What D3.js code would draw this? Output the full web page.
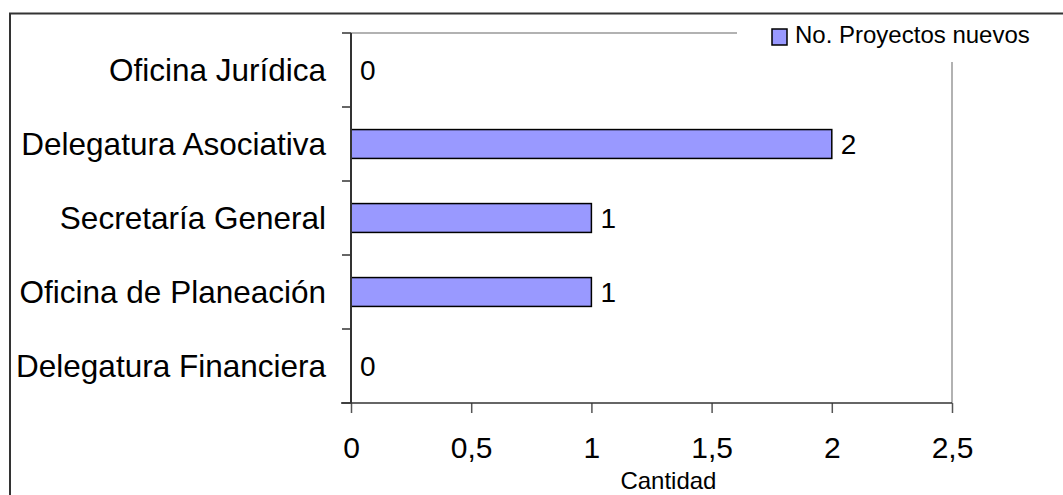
<!DOCTYPE html>
<html>
<head>
<meta charset="utf-8">
<script src="https://cdn.jsdelivr.net/npm/d3@7"></script>
<style>
	body { margin: 0; background: #fff; }
	svg { display: block; font-family: "Liberation Sans", Arial, sans-serif; }
</style>
</head>
<body>
<div class="chart"></div>
<script>
const width = 1063,
	height = 495;

// data, top to bottom as drawn
const categories = [
	"Oficina Jurídica",
	"Delegatura Asociativa",
	"Secretaría General",
	"Oficina de Planeación",
	"Delegatura Financiera",
];
const proyectosNuevos = [0, 2, 1, 1, 0];
const xTicks = [0, 0.5, 1, 1.5, 2, 2.5];
const seriesName = "No. Proyectos nuevos";
const axisTitle = "Cantidad";

const plot = { left: 351, right: 952, top: 33, bottom: 403 };

const svg = d3
	.select(".chart")
	.append("svg")
	.attr("width", width)
	.attr("height", height);

// outer frame (runs off the right/bottom edge like the original)
svg.append("rect")
	.attr("x", 10)
	.attr("y", 13.5)
	.attr("width", width + 20)
	.attr("height", height + 20)
	.attr("fill", "#fff")
	.attr("stroke", "#333")
	.attr("stroke-width", 2);

const x = d3.scaleLinear().domain([0, 2.5]).range([plot.left, plot.right]);
const y = d3
	.scaleBand()
	.domain(categories)
	.range([plot.top, plot.bottom])
	.paddingInner(0.61)
	.paddingOuter(0.305);
const yEdges = d3.scaleLinear().domain([0, categories.length]).range([plot.top, plot.bottom]);

// plot area border (grey top + right)
svg.append("line")
	.attr("x1", plot.left).attr("x2", plot.right)
	.attr("y1", plot.top).attr("y2", plot.top)
	.attr("stroke", "#999").attr("stroke-width", 1.5);
svg.append("line")
	.attr("x1", plot.right).attr("x2", plot.right)
	.attr("y1", plot.top).attr("y2", plot.bottom)
	.attr("stroke", "#999").attr("stroke-width", 1.5);

// bars
svg.append("g")
	.selectAll("rect")
	.data(categories)
	.join("rect")
	.attr("x", x(0))
	.attr("y", (d) => y(d))
	.attr("width", (d, i) => x(proyectosNuevos[i]) - x(0))
	.attr("height", y.bandwidth())
	.attr("fill", "#9999ff")
	.attr("stroke", "#000")
	.attr("stroke-width", 1.5)
	.attr("display", (d, i) => (proyectosNuevos[i] > 0 ? null : "none"));

// value labels
svg.append("g")
	.selectAll("text")
	.data(categories)
	.join("text")
	.attr("x", (d, i) => x(proyectosNuevos[i]) + 9)
	.attr("y", (d) => y(d) + y.bandwidth() / 2)
	.attr("dy", "0.36em")
	.attr("font-size", 28)
	.text((d, i) => proyectosNuevos[i]);

// y axis: line + ticks on category boundaries
const yAxis = svg.append("g");
yAxis.append("line")
	.attr("x1", plot.left).attr("x2", plot.left)
	.attr("y1", plot.top).attr("y2", plot.bottom)
	.attr("stroke", "#333").attr("stroke-width", 2);
yAxis.selectAll(".tick")
	.data(d3.range(categories.length + 1))
	.join("line")
	.attr("x1", plot.left - 9).attr("x2", plot.left)
	.attr("y1", (d) => yEdges(d)).attr("y2", (d) => yEdges(d))
	.attr("stroke", "#333").attr("stroke-width", 1.5);
yAxis.selectAll("text")
	.data(categories)
	.join("text")
	.attr("x", 326)
	.attr("y", (d) => y(d) + y.bandwidth() / 2)
	.attr("dy", "0.36em")
	.attr("text-anchor", "end")
	.attr("font-size", 31.5)
	.text((d) => d);

// x axis
const xAxis = svg
	.append("g")
	.attr("transform", `translate(0,${plot.bottom})`)
	.call(
		d3.axisBottom(x)
		.tickValues(xTicks)
		.tickSize(10)
		.tickPadding(24)
		.tickFormat((d) => String(d).replace(".", ","))
	);
xAxis.select(".domain").remove();
xAxis.append("line")
	.attr("x1", plot.left - 10).attr("x2", plot.right)
	.attr("stroke", "#333").attr("stroke-width", 1.5);
xAxis.selectAll(".tick line").attr("stroke", "#555").attr("stroke-width", 1.5);
xAxis.selectAll(".tick text")
	.attr("font-family", "Liberation Sans, Arial, sans-serif")
	.attr("font-size", 30)
	.attr("fill", "#000");

svg.append("text")
	.attr("x", x(1) + 29)
	.attr("y", 489)
	.attr("font-size", 24)
	.text(axisTitle);

// legend
const legend = svg.append("g").attr("transform", "translate(737,20)");
legend.append("rect")
	.attr("width", 305)
	.attr("height", 42)
	.attr("fill", "#fff");
legend.append("rect")
	.attr("x", 35)
	.attr("y", 9)
	.attr("width", 15)
	.attr("height", 16)
	.attr("fill", "#9999ff")
	.attr("stroke", "#000")
	.attr("stroke-width", 1.5);
legend.append("text")
	.attr("x", 58)
	.attr("y", 23)
	.attr("font-size", 24)
	.text(seriesName);
</script>
</body>
</html>
